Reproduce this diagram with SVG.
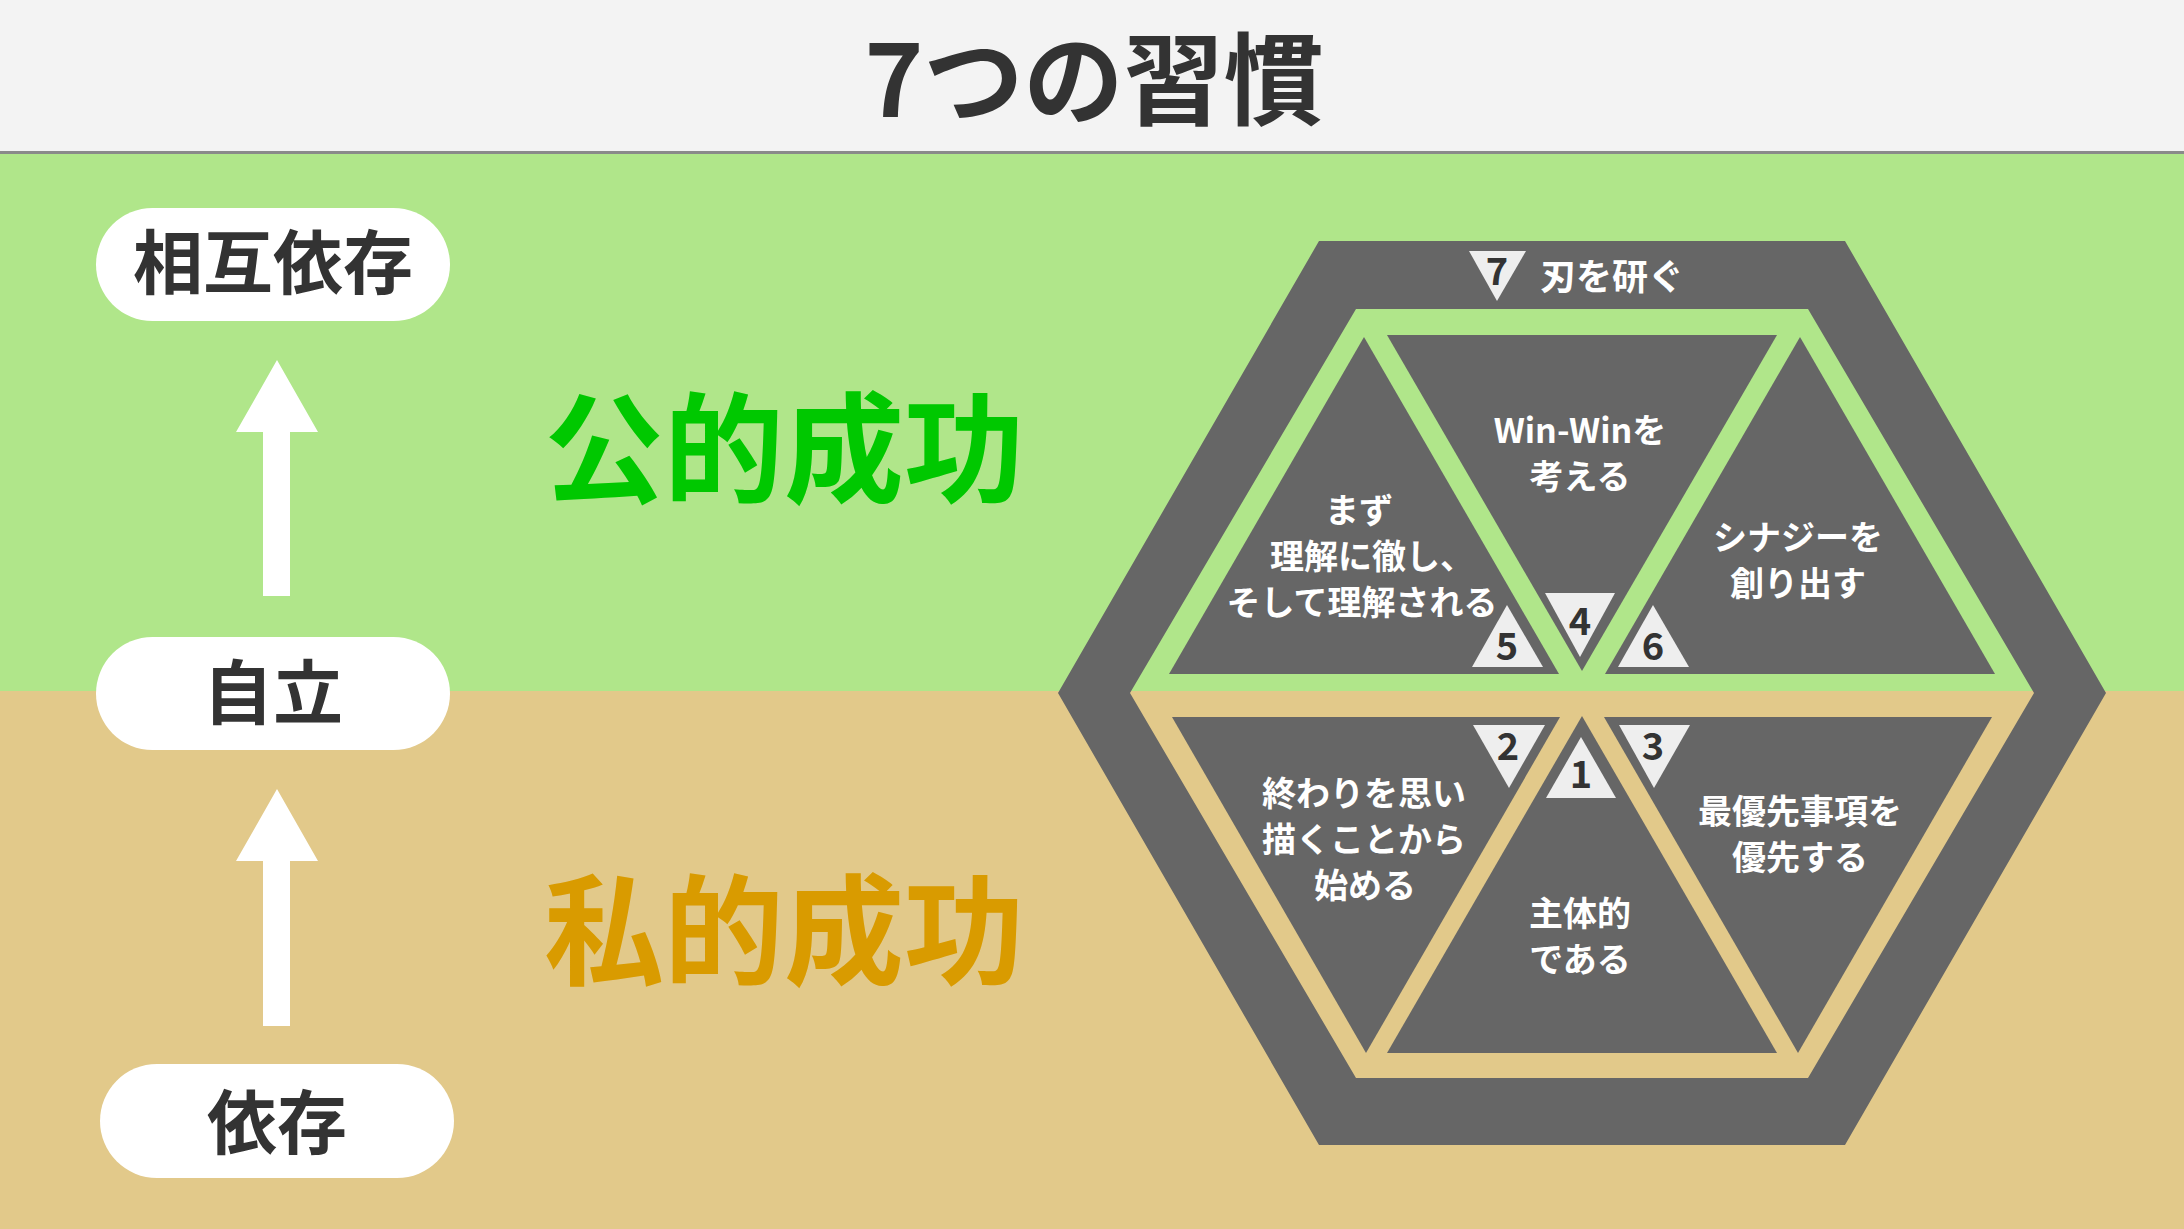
<svg xmlns="http://www.w3.org/2000/svg" width="2184" height="1229" viewBox="0 0 2184 1229">
<style>
text{font-family:"Noto Sans CJK JP","Noto Sans",sans-serif;font-weight:700}
.title{font-size:100px;fill:#333333;text-anchor:middle}
.pill rect{fill:#ffffff}
.pill text{font-size:70px;fill:#333333;text-anchor:middle}
.big{font-size:120px;text-anchor:middle}
.dark{fill:#666666}
.lbl{font-size:34px;fill:#ffffff;text-anchor:middle}
.badge polygon{fill:#eeeeee}
.badge text{font-size:38px;fill:#333333;text-anchor:middle}
.arrow{fill:#ffffff}
</style>
<rect x="0" y="0" width="2184" height="153" fill="#f3f3f3"/>
<rect x="0" y="153" width="2184" height="538" fill="#b0e68a"/>
<rect x="0" y="691" width="2184" height="538" fill="#e2c98a"/>
<rect x="0" y="151" width="2184" height="3" fill="#8a8a8a"/>
<text class="title" x="1094" y="117">7つの習慣</text>

<g id="node-sougo" class="pill"><rect x="96" y="208" width="354" height="113" rx="56.5"/><text x="273" y="289">相互依存</text></g>
<g id="node-jiritsu" class="pill"><rect x="96" y="637" width="354" height="113" rx="56.5"/><text x="273" y="719">自立</text></g>
<g id="node-izon" class="pill"><rect x="100" y="1064" width="354" height="114" rx="57"/><text x="277" y="1149">依存</text></g>

<g id="connectors">
<polygon class="arrow" points="277,360 318,432 290,432 290,596 263,596 263,432 236,432"/>
<polygon class="arrow" points="277,789 318,861 290,861 290,1026 263,1026 263,861 236,861"/>
</g>

<g id="label-public"><text class="big" x="784" y="494" fill="#00c800">公的成功</text></g>
<g id="label-private"><text class="big" x="784" y="976" fill="#d99b00">私的成功</text></g>

<g id="hexagon">
<path class="dark" fill-rule="evenodd" d="M1319,241 L1845,241 L2106,693 L1845,1145 L1319,1145 L1058,693 Z M1356,309 L1130,693 L1356,1078 L1808,1078 L2034,693 L1808,309 Z"/>
</g>

<g id="habit-7">
<g class="badge"><polygon points="1469,251 1526,251 1497,301"/><text x="1497" y="285">7</text></g>
<text x="1540" y="290" style="font-size:36px;fill:#ffffff">刃を研ぐ</text>
</g>

<g id="habit-4">
<polygon class="dark" points="1387,335 1777,335 1582,671"/>
<text class="lbl" x="1580" y="443">Win-Winを</text>
<text class="lbl" x="1580" y="489">考える</text>
<g class="badge"><polygon points="1545,593 1615,593 1580,657"/><text x="1580" y="635">4</text></g>
</g>

<g id="habit-5">
<polygon class="dark" points="1364,337 1559,674 1169,674"/>
<text class="lbl" x="1359" y="523">まず</text>
<text class="lbl" x="1372" y="569">理解に徹し、</text>
<text class="lbl" x="1362" y="615">そして理解される</text>
<g class="badge"><polygon points="1507,605 1543,667 1472,667"/><text x="1507" y="660">5</text></g>
</g>

<g id="habit-6">
<polygon class="dark" points="1800,337 1995,674 1605,674"/>
<text class="lbl" x="1798" y="550">シナジーを</text>
<text class="lbl" x="1798" y="596">創り出す</text>
<g class="badge"><polygon points="1653,605 1689,667 1618,667"/><text x="1653" y="660">6</text></g>
</g>

<g id="habit-1">
<polygon class="dark" points="1582,716 1777,1053 1387,1053"/>
<text class="lbl" x="1580" y="926">主体的</text>
<text class="lbl" x="1580" y="972">である</text>
<g class="badge"><polygon points="1581,737 1616,798 1546,798"/><text x="1581" y="788">1</text></g>
</g>

<g id="habit-2">
<polygon class="dark" points="1172,717 1560,717 1366,1053"/>
<text class="lbl" x="1364" y="806">終わりを思い</text>
<text class="lbl" x="1364" y="852">描くことから</text>
<text class="lbl" x="1365" y="898">始める</text>
<g class="badge"><polygon points="1473,725 1545,725 1509,788"/><text x="1508" y="760">2</text></g>
</g>

<g id="habit-3">
<polygon class="dark" points="1604,717 1992,717 1798,1053"/>
<text class="lbl" x="1800" y="824">最優先事項を</text>
<text class="lbl" x="1800" y="870">優先する</text>
<g class="badge"><polygon points="1619,725 1690,725 1654,788"/><text x="1653" y="760">3</text></g>
</g>
</svg>
